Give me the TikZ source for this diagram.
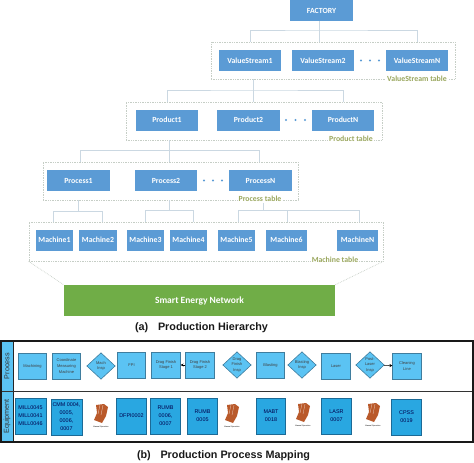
\documentclass[tikz,border=0pt]{standalone}
\usepackage{fontspec}
\setmainfont{Carlito}
\newfontfamily\arialfont{Liberation Sans}
\usepackage{xcolor}
\usetikzlibrary{arrows.meta,shapes.geometric}
\definecolor{boxblue}{HTML}{5B9BD5}
\definecolor{busgrey}{HTML}{CBD8E2}
\definecolor{tablegrey}{HTML}{C6CEC6}
\definecolor{tableolive}{HTML}{9AA75E}
\definecolor{netgreen}{HTML}{70AD47}
\definecolor{procfill}{HTML}{5BC3F3}
\definecolor{procline}{HTML}{3F7D9E}
\definecolor{equipfill}{HTML}{29A7E1}
\definecolor{equipline}{HTML}{1C6A96}
\definecolor{handbrown}{HTML}{B9592A}
\tikzset{
  handicon/.pic={
    \fill[handbrown] (-5,-9) -- (3,-10) -- (7,-7) -- (5,2) -- (1,9) -- (-7,6) -- (-4,-1) -- cycle;
    \draw[white!70!handbrown,line width=0.3pt] (-1,-9) -- (-3,0) (2,-9) -- (0,1);
  }
}
\begin{document}
\begin{tikzpicture}[
    x=1pt, y=-1pt,
    every node/.style={font=\fontsize{7.8}{8}\selectfont\bfseries},
    tbox/.style={fill=boxblue, text=white, minimum width=62.5pt, minimum height=21pt, inner sep=0pt},
    mbox/.style={tbox, minimum width=37.5pt},
    tablebox/.style={draw=tablegrey, densely dotted, line width=0.7pt, inner sep=0pt},
    tablelabel/.style={text=tableolive, fill=white, inner sep=1pt},
    bus/.style={draw=busgrey, line width=0.8pt},
    morep/.style={fill=boxblue, circle, minimum size=2.4pt, inner sep=0pt},
    proc/.style={draw=procline, fill=procfill, line width=0.6pt, minimum width=28.5pt, minimum height=26pt,
      inner sep=0pt, align=center, font=\arialfont\fontsize{4}{5.6}\selectfont, text=black!75},
    dec/.style={proc, diamond, minimum width=28.5pt, minimum height=26.5pt, aspect=1},
    equip/.style={draw=equipline, fill=equipfill, line width=0.6pt, minimum width=29.5pt, minimum height=36pt,
      inner sep=0pt, align=center, font=\arialfont\fontsize{5.4}{8}\selectfont, text=black!70!blue},
    manual/.style={font=\arialfont\fontsize{1.9}{2}\selectfont, inner sep=0pt},
    caption/.style={font=\arialfont\bfseries\fontsize{10.8}{11}\selectfont, text=black!90},
    band/.style={draw=black!85, fill=procfill, line width=0.5pt, minimum height=12pt, inner sep=0pt,
      rotate=90, font=\arialfont\fontsize{7.2}{7.5}\selectfont, text=black!80},
    flow/.style={-{Stealth[length=3pt,width=3pt]}, line width=0.5pt}
  ]
  \useasboundingbox (0,0) rectangle (474,463);

  % dotted tables first
  \node[tablebox, minimum width=244pt, minimum height=37pt] (VStable) at (333,60.5) {};
  \node[tablebox, minimum width=256pt, minimum height=38pt] (Ptable) at (254,121) {};
  \node[tablebox, minimum width=255pt, minimum height=38pt] (PRtable) at (170.5,181) {};
  \node[tablebox, minimum width=354pt, minimum height=39pt] (Mtable) at (206,241.5) {};

  \node[tbox] (FACTORY) at (321.5,10.5) {FACTORY};

  \node[tbox] (VS1) at (250,60.5) {ValueStream1};
  \node[tbox] (VS2) at (323,60.5) {ValueStream2};
  \node[tbox] (VSN) at (417,60.5) {ValueStreamN};
  \node[morep] (VSd1) at (361,60.5) {};
  \node[morep] (VSd2) at (370,60.5) {};
  \node[morep] (VSd3) at (379,60.5) {};
  \node[tablelabel] (VSlabel) at (417,79) {ValueStream table};

  \node[tbox] (P1) at (167,120) {Product1};
  \node[tbox] (P2) at (248.5,120) {Product2};
  \node[tbox] (PN) at (343,120) {ProductN};
  \node[morep] (Pd1) at (286,120) {};
  \node[morep] (Pd2) at (295.5,120) {};
  \node[morep] (Pd3) at (305,120) {};
  \node[tablelabel] (Plabel) at (351,139) {Product table};

  \node[tbox] (PR1) at (78.5,180.5) {Process1};
  \node[tbox] (PR2) at (166,180.5) {Process2};
  \node[tbox] (PRN) at (260.5,180.5) {ProcessN};
  \node[morep] (PRd1) at (204,180.5) {};
  \node[morep] (PRd2) at (213,180.5) {};
  \node[morep] (PRd3) at (222,180.5) {};
  \node[tablelabel] (PRlabel) at (260,199) {Process table};

  \node[mbox] (M1) at (54.5,240) {Machine1};
  \node[mbox] (M2) at (98,240) {Machine2};
  \node[mbox] (M3) at (145.5,240) {Machine3};
  \node[mbox] (M4) at (188.5,240) {Machine4};
  \node[mbox] (M5) at (236.5,240) {Machine5};
  \node[mbox, minimum width=41.5pt] (M6) at (286.5,240) {Machine6};
  \node[mbox, minimum width=41.5pt] (MN) at (357.5,240) {MachineN};
  \node[tablelabel] (Mlabel) at (335,260) {Machine table};

  \node[fill=netgreen, text=white, minimum width=271pt, minimum height=31pt, inner sep=0pt,
    font=\fontsize{9.5}{10}\selectfont\bfseries] (SEN) at (199.5,300.5) {Smart Energy Network};
  \draw[tablebox] (Mtable.south west) -- (SEN.north west);
  \draw[tablebox] (Mtable.south east) -- (SEN.north east);

  % hierarchy connectors
  \coordinate (VSbus) at (319,30);
  \draw[bus] (FACTORY.south -| VSbus) -- (VStable.north -| VSbus);
  \draw[bus] (VStable.north -| VS1) |- (VSbus) -| (VStable.north -| VSN);

  \coordinate (Pbus) at (253,90);
  \draw[bus] (VStable.south -| Pbus) -- (Ptable.north -| Pbus);
  \draw[bus] (Ptable.north -| P1) |- (Pbus) -| (Ptable.north -| PN);

  \coordinate (PRbus) at (169,150);
  \coordinate (PRbusL) at (80,150);
  \coordinate (PRbusR) at (259,150);
  \draw[bus] (Ptable.south -| PRbus) -- (PRtable.north -| PRbus);
  \draw[bus] (PRtable.north -| PRbusL) -- (PRbusL) -- (PRbusR) -- (PRtable.north -| PRbusR);

  \coordinate (MbusA) at (78,211);
  \coordinate (MbusAL) at (53,211);
  \coordinate (MbusAR) at (102,211);
  \draw[bus] (PRtable.south -| MbusA) -- (MbusA);
  \draw[bus] (Mtable.north -| MbusAL) -- (MbusAL) -- (MbusAR) -- (Mtable.north -| MbusAR);

  \coordinate (MbusB) at (169,210.5);
  \coordinate (MbusBL) at (145,210.5);
  \coordinate (MbusBR) at (193,210.5);
  \draw[bus] (PRtable.south -| MbusB) -- (MbusB);
  \draw[bus] (Mtable.north -| MbusBL) -- (MbusBL) -- (MbusBR) -- (Mtable.north -| MbusBR);

  \coordinate (MbusC) at (263,210);
  \coordinate (MbusCL) at (238,210);
  \coordinate (MbusCM) at (287,210);
  \coordinate (MbusCR) at (359,210);
  \draw[bus] (PRlabel.south -| MbusC) -- (MbusC);
  \draw[bus] (Mtable.north -| MbusCL) -- (MbusCL) -- (MbusCR) -- (Mtable.north -| MbusCR);
  \draw[bus] (MbusCM) -- (Mtable.north -| MbusCM);

  \node[caption] (capa) at (201.5,328) {(a)\hspace{0.9em}Production Hierarchy};

  % mapping frame
  \coordinate (frameNW) at (1,341);
  \coordinate (frameSE) at (473,442);
  \coordinate (rowL) at (1,391);
  \coordinate (rowR) at (473,391);
  \node[band, minimum width=50pt] (bandP) at (7,366) {Process};
  \node[band, minimum width=51pt] (bandE) at (7,416.5) {Equipment};
  \draw[black!80, line width=0.5pt] (rowL) -- (rowR);
  \draw[black!90, line width=1.2pt] (frameNW) rectangle (frameSE);

  \node[proc] (mach) at (32.5,366) {Machining};
  \node[proc] (cmmp) at (66.5,366) {Coordinate\\Measuring\\Machine};
  \node[dec] (machi) at (101,366) {Mach\\Insp};
  \node[proc] (fpi) at (131.5,365) {FPI};
  \node[proc] (drag1) at (166,365) {Drag Finish\\Stage 1};
  \node[proc] (drag2) at (200,365) {Drag Finish\\Stage 2};
  \node[dec] (dragi) at (237,365) {Drag\\Finish\\Insp};
  \node[proc] (blast) at (270.5,365) {Blasting};
  \node[dec] (blasti) at (302,365) {Blasting\\Insp};
  \node[proc] (laser) at (336,366) {Laser};
  \node[dec] (posti) at (370,365) {Post-\\Laser\\Insp};
  \node[proc] (clean) at (407,366) {Cleaning\\Line};
  \draw[flow] (drag2) -- (drag1);
  \draw[flow] (posti) -- (clean);

  \node[equip, minimum width=31pt] (mill) at (30.5,416) {MILL0045\\MILL0041\\MILL0046};
  \node[equip, minimum width=31pt] (cmme) at (66.5,417) {CMM 0004,\\0005,\\0006,\\0007};
  \pic at (101,414) {handicon};
  \node[manual] (man1) at (101,427) {Manual Operation};
  \node[equip] (dfpi) at (131.5,416) {DFPI0002};
  \node[equip] (rumb1) at (165.5,416) {RUMB\\0006,\\0007};
  \node[equip] (rumb2) at (202.5,416) {RUMB\\0005};
  \pic at (232,414) {handicon};
  \node[manual] (man2) at (232,427) {Manual Operation};
  \node[equip] (mabt) at (271,416) {MABT\\0018};
  \pic at (303,413) {handicon};
  \node[manual] (man3) at (303,426) {Manual Operation};
  \node[equip] (lasr) at (336.5,416) {LASR\\0007};
  \pic at (373,413) {handicon};
  \node[manual] (man4) at (373,426) {Manual Operation};
  \node[equip] (cpss) at (406.5,417) {CPSS\\0019};

  \node[caption] (capb) at (223.5,456) {(b)\hspace{0.9em}Production Process Mapping};
\end{tikzpicture}
\end{document}
